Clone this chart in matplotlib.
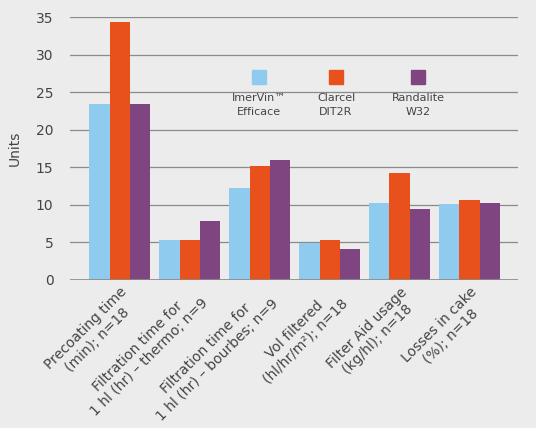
import matplotlib
matplotlib.use("Agg")
import matplotlib.pyplot as plt
import numpy as np

categories = ["Precoating time\n(min); n=18", "Filtration time for\n1 hl (hr) – thermo; n=9",
              "Filtration time for\n1 hl (hr) – bourbes; n=9", "Vol filtered\n(hl/hr/m²); n=18",
              "Filter Aid usage\n(kg/hl); n=18", "Losses in cake\n(%); n=18"]
series_names = ["ImerVin™\nEfficace", "Clarcel\nDIT2R", "Randalite\nW32"]
imervin = [23.4, 5.3, 12.2, 4.9, 10.2, 10.1]
clarcel = [34.3, 5.3, 15.2, 5.3, 14.3, 10.6]
randalite = [23.4, 7.8, 16.0, 4.1, 9.4, 10.2]
colors = ["#8fcbee", "#e8501c", "#7e4580"]
bg = "#ececec"

fig = plt.figure(figsize=(5.36, 4.28), dpi=100, facecolor=bg)
ax = fig.add_axes([0.131, 0.346, 0.835, 0.614], facecolor=bg)
x = np.arange(len(categories))
w = 0.29
for i, (vals, c) in enumerate(zip([imervin, clarcel, randalite], colors)):
    ax.bar(x + (i - 1) * w, vals, w, color=c, zorder=3)
ax.set_ylim(0, 35)
ax.set_xlim(-0.71, 5.69)
ax.set_yticks(range(0, 36, 5))
ax.grid(axis="y", color="#8a8a8a", lw=0.9, zorder=0)
for s in ax.spines.values():
    s.set_visible(False)
ax.axhline(0, color="#8a8a8a", lw=1.2, zorder=4)
ax.tick_params(length=0, labelsize=10, colors="#444444")
ax.tick_params(axis="y", pad=12)
ax.set_xticks(x)
ax.set_xticklabels(categories, rotation=45, ha="right", rotation_mode="anchor", fontsize=10,
                   color="#444444", multialignment="center")
ax.set_ylabel("Units", fontsize=10, color="#444444", labelpad=10)

for xp, c, name in zip([259, 336, 418], colors, series_names):
    fig.patches.append(plt.Rectangle(((xp - 7) / 536, 1 - 84 / 428), 14 / 536, 14 / 428,
                                     color=c, transform=fig.transFigure, zorder=5))
    fig.text(xp / 536, 1 - 105 / 428, name, ha="center", va="center", fontsize=8,
             color="#444444", linespacing=1.5)
fig.savefig("out.png", dpi=100, facecolor=bg)
